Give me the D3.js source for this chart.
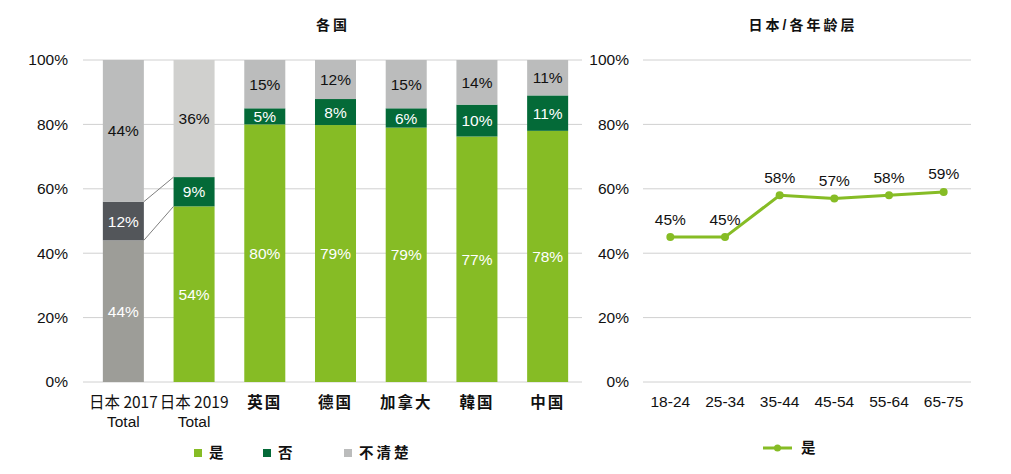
<!DOCTYPE html>
<html><head><meta charset="utf-8">
<script src="https://cdn.jsdelivr.net/npm/d3@7"></script>
<style>
body{margin:0;background:#fff;}
text{font-family:"Liberation Sans",Arial,"Noto Sans CJK SC",sans-serif;}
</style></head>
<body><svg id="c" width="1011" height="474"></svg>
<script>
// ---- data ----
const categories = ["日本 2017|Total","日本 2019|Total","英国","德国","加拿大","韓国","中国"];
const yesValues     = [44, 54, 80, 79, 79, 77, 78];
const noValues      = [12,  9,  5,  8,  6, 10, 11];
const unsureValues  = [44, 36, 15, 12, 15, 14, 11];
const seriesNames = ["是","否","不清楚"];
const ageGroups = ["18-24","25-34","35-44","45-54","55-64","65-75"];
const ageYes = [45, 45, 58, 57, 58, 59];
const yTicks = [0, 20, 40, 60, 80, 100];
const leftTitle = "各国";
const rightTitle = "日本/各年龄层";

// ---- styles ----
const GREEN="#86bc25", DKGREEN="#046a38", LGRAY="#bbbcbc", LGRAY2="#d0d0ce", DGRAY="#53565a", MGRAY="#9d9d98", GRID="#d0d0d0";
const CJK = '"Noto Sans CJK SC","Liberation Sans",sans-serif';
const FS = 15.5;

const svg = d3.select("#c");
const y = d3.scaleLinear().domain([0,1]).range([382,60]);
const yP = d3.scaleLinear().domain([0,100]).range([382,60]);

// ---- left chart ----
const x = d3.scaleBand().domain(categories).range([88,583]).paddingInner(0.42).paddingOuter(0.21);
const gL = svg.append("g");
gL.selectAll("line.grid").data(yTicks).join("line")
  .attr("x1",83).attr("x2",582).attr("y1",d=>yP(d)).attr("y2",d=>yP(d))
  .attr("stroke",GRID).attr("stroke-width",1);
gL.selectAll("text.yt").data(yTicks).join("text")
  .attr("x",68).attr("y",d=>yP(d)).attr("dy","0.35em").attr("text-anchor","end")
  .attr("font-size",FS).attr("fill","#111").text(d=>d+"%");

const rows = categories.map((c,i)=>({cat:c, yes:yesValues[i], no:noValues[i], unsure:unsureValues[i], i}));
const stack = d3.stack().keys(["yes","no","unsure"]).offset(d3.stackOffsetExpand);
const layers = stack(rows);
function fillFor(key, i){
  if(i===0){ return key==="yes"?MGRAY:key==="no"?DGRAY:LGRAY; }
  if(i===1 && key==="unsure") return LGRAY2;
  return key==="yes"?GREEN:key==="no"?DKGREEN:LGRAY;
}
function textFor(key){ return key==="unsure"?"#111":"#fff"; }
layers.forEach(layer=>{
  const key = layer.key;
  gL.selectAll("rect."+key).data(layer).join("rect")
    .attr("x",d=>x(d.data.cat)).attr("width",x.bandwidth())
    .attr("y",d=>y(d[1])).attr("height",d=>y(d[0])-y(d[1]))
    .attr("fill",(d)=>fillFor(key,d.data.i));
  gL.selectAll("text.l"+key).data(layer).join("text")
    .attr("x",d=>x(d.data.cat)+x.bandwidth()/2)
    .attr("y",d=>(y(d[0])+y(d[1]))/2).attr("dy","0.36em")
    .attr("text-anchor","middle").attr("font-size",FS)
    .attr("fill",textFor(key)).text(d=>d.data[key]+"%");
});
// connector lines between 2017 and 2019
const L0 = layers, c0 = categories[0], c1 = categories[1];
[[L0[1][0][1], L0[1][1][1]],[L0[1][0][0], L0[1][1][0]]].forEach(([a,b])=>{
  gL.append("line").attr("x1",x(c0)+x.bandwidth()).attr("y1",y(a))
    .attr("x2",x(c1)).attr("y2",y(b)).attr("stroke","#7f7f7f").attr("stroke-width",1);
});
// x labels
categories.forEach((c,i)=>{
  const parts=c.split("|");
  const t = gL.append("text").attr("x",x(c)+x.bandwidth()/2).attr("y",403).attr("dy","0.35em")
    .attr("text-anchor","middle").attr("font-size",FS).attr("fill","#111");
  if(parts.length>1){
    t.append("tspan").attr("x",x(c)+x.bandwidth()/2).text(parts[0]).attr("font-family",CJK);
    t.append("tspan").attr("x",x(c)+x.bandwidth()/2).attr("dy","1.2em").text(parts[1]);
  } else {
    t.attr("font-family",CJK).attr("font-weight","bold").attr("letter-spacing","2px").text(parts[0]);
  }
});
svg.append("text").attr("x",333).attr("y",25).attr("dy","0.35em").attr("text-anchor","middle")
  .attr("font-size",14).attr("font-weight","bold").attr("font-family",CJK).attr("letter-spacing","3px")
  .attr("fill","#111").text(leftTitle);
// left legend
const legL = [{n:seriesNames[0],c:GREEN,x:194},{n:seriesNames[1],c:DKGREEN,x:263},{n:seriesNames[2],c:LGRAY,x:344}];
legL.forEach(d=>{
  svg.append("rect").attr("x",d.x).attr("y",449).attr("width",8).attr("height",8).attr("fill",d.c);
  svg.append("text").attr("x",d.x+15).attr("y",453).attr("dy","0.35em").attr("font-size",14.5)
    .attr("font-weight","bold").attr("font-family",CJK).attr("letter-spacing","3px").attr("fill","#111").text(d.n);
});

// ---- right chart ----
const x2 = d3.scaleBand().domain(ageGroups).range([643,971]);
const gR = svg.append("g");
gR.selectAll("line.grid").data(yTicks).join("line")
  .attr("x1",643).attr("x2",971).attr("y1",d=>yP(d)).attr("y2",d=>yP(d))
  .attr("stroke",GRID).attr("stroke-width",1);
gR.selectAll("text.yt").data(yTicks).join("text")
  .attr("x",629).attr("y",d=>yP(d)).attr("dy","0.35em").attr("text-anchor","end")
  .attr("font-size",FS).attr("fill","#111").text(d=>d+"%");
gR.selectAll("text.xt").data(ageGroups).join("text")
  .attr("x",d=>x2(d)+x2.bandwidth()/2).attr("y",402).attr("dy","0.35em").attr("text-anchor","middle")
  .attr("font-size",FS).attr("fill","#111").text(d=>d);
const pts = ageGroups.map((g,i)=>({g, v:ageYes[i]}));
const line = d3.line().x(d=>x2(d.g)+x2.bandwidth()/2).y(d=>yP(d.v));
gR.append("path").datum(pts).attr("d",line).attr("fill","none").attr("stroke",GREEN).attr("stroke-width",3);
gR.selectAll("circle").data(pts).join("circle")
  .attr("cx",d=>x2(d.g)+x2.bandwidth()/2).attr("cy",d=>yP(d.v)).attr("r",4).attr("fill",GREEN);
gR.selectAll("text.pl").data(pts).join("text")
  .attr("x",d=>x2(d.g)+x2.bandwidth()/2).attr("y",d=>yP(d.v)-18).attr("dy","0.35em").attr("text-anchor","middle")
  .attr("font-size",FS).attr("fill","#111").text(d=>d.v+"%");
svg.append("text").attr("x",803).attr("y",25).attr("dy","0.35em").attr("text-anchor","middle")
  .attr("font-size",14).attr("font-weight","bold").attr("font-family",CJK).attr("letter-spacing","3px")
  .attr("fill","#111").text(rightTitle);
// right legend
svg.append("line").attr("x1",763).attr("x2",792).attr("y1",448).attr("y2",448).attr("stroke",GREEN).attr("stroke-width",3);
svg.append("circle").attr("cx",777.5).attr("cy",448).attr("r",3.5).attr("fill",GREEN);
svg.append("text").attr("x",801).attr("y",448).attr("dy","0.35em").attr("font-size",14.5).attr("font-weight","bold")
  .attr("font-family",CJK).attr("fill","#111").text(seriesNames[0]);
</script></body></html>
